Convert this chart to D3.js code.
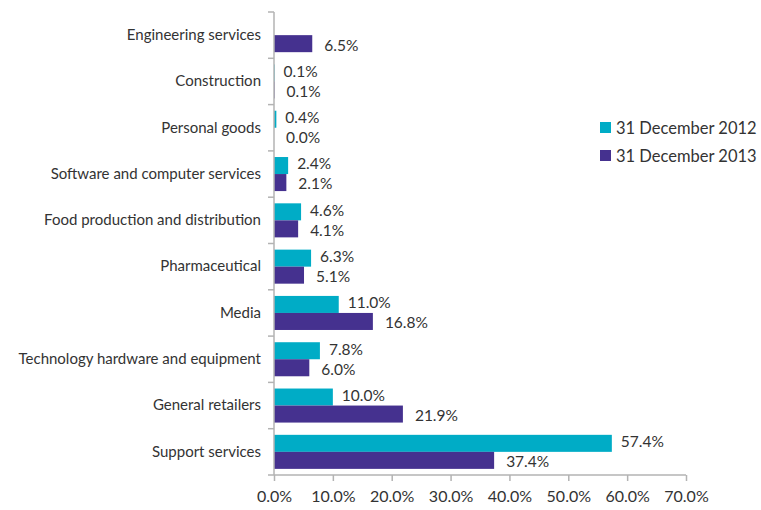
<!DOCTYPE html>
<html>
<head>
<meta charset="utf-8">
<script src="https://cdn.jsdelivr.net/npm/d3@7"></script>
<style>
  body { margin: 0; background: #fff; }
  text { font-family: Lato, "Open Sans", sans-serif; fill: #333; }
</style>
</head>
<body>
<script>
const width = 761;
const height = 510;

// data, top to bottom as drawn
const sectors = [
  'Engineering services',
  'Construction',
  'Personal goods',
  'Software and computer services',
  'Food production and distribution',
  'Pharmaceutical',
  'Media',
  'Technology hardware and equipment',
  'General retailers',
  'Support services'
];
const dec2012 = [null, 0.1, 0.4, 2.4, 4.6, 6.3, 11.0, 7.8, 10.0, 57.4];
const dec2013 = [6.5, 0.1, 0.0, 2.1, 4.1, 5.1, 16.8, 6.0, 21.9, 37.4];
const seriesNames = ['31 December 2012', '31 December 2013'];
const xTicks = [0, 10, 20, 30, 40, 50, 60, 70];

const colors = ['#00acc6', '#45318f'];
const labelOffset = [9, 12];
const labelNudge = [-1.5, 1.5]; // keep the two labels of a pair from touching

const margin = { top: 12, right: 75, bottom: 35, left: 274 };

const svg = d3.select('body').append('svg')
  .attr('width', width)
  .attr('height', height);

const x = d3.scaleLinear()
  .domain([0, 70])
  .range([margin.left, width - margin.right]);

const y = d3.scaleBand()
  .domain(sectors)
  .range([margin.top, height - margin.bottom])
  .paddingInner(0)
  .paddingOuter(0);

const sub = d3.scaleBand()
  .domain([0, 1])
  .range([0, y.bandwidth()])
  .paddingInner(0)
  .paddingOuter(0.36);

const rows = sectors.map((s, i) => ({ sector: s, values: [dec2012[i], dec2013[i]] }));

// bars
const group = svg.append('g')
  .selectAll('g')
  .data(rows)
  .enter().append('g')
  .attr('transform', d => `translate(0,${y(d.sector)})`);

group.selectAll('rect')
  .data(d => d.values.map((v, k) => ({ v, k })).filter(e => e.v !== null))
  .enter().append('rect')
    .attr('x', x(0))
    .attr('y', d => sub(d.k))
    .attr('width', d => Math.max(x(d.v) - x(0), 0))
    .attr('height', sub.bandwidth())
    .style('fill', d => colors[d.k]);

group.selectAll('text')
  .data(d => d.values.map((v, k) => ({ v, k })).filter(e => e.v !== null))
  .enter().append('text')
    .attr('x', d => x(d.v) + labelOffset[d.k])
    .attr('y', d => sub(d.k) + sub.bandwidth() / 2 + labelNudge[d.k])
    .attr('dy', '0.35em')
    .style('font-size', '15.5px')
    .text(d => d.v.toFixed(1) + '%');

// y axis
const yAxis = d3.axisLeft(y).tickSize(0).tickPadding(13);
const yg = svg.append('g')
  .attr('transform', `translate(${x(0)},0)`)
  .call(yAxis);
yg.select('.domain').remove();
yg.selectAll('text').style('font-size', '15px');

const axisColor = '#b3b3b3';
svg.append('line')
  .attr('x1', x(0)).attr('x2', x(0))
  .attr('y1', margin.top).attr('y2', height - margin.bottom)
  .style('stroke', axisColor).style('stroke-width', 1.5);

svg.append('g')
  .selectAll('line')
  .data(sectors.concat(['end']))
  .enter().append('line')
    .attr('x1', x(0) - 6).attr('x2', x(0))
    .attr('y1', (d, i) => margin.top + i * y.step())
    .attr('y2', (d, i) => margin.top + i * y.step())
    .style('stroke', axisColor).style('stroke-width', 1.5);

// x axis
const xAxis = d3.axisBottom(x)
  .tickValues(xTicks)
  .tickSize(6)
  .tickPadding(10)
  .tickFormat(d => d.toFixed(1) + '%');
const xg = svg.append('g')
  .attr('transform', `translate(0,${height - margin.bottom})`)
  .call(xAxis);
xg.select('.domain')
  .attr('d', `M${x(0)},0H${x(70)}`)
  .style('stroke', axisColor).style('stroke-width', 1.5);
xg.selectAll('line').style('stroke', axisColor).style('stroke-width', 1.5);
xg.selectAll('text').style('font-size', '16px').style('fill', '#333');

// legend
const legend = svg.append('g')
  .attr('transform', 'translate(600,122)')
  .selectAll('g')
  .data(seriesNames)
  .enter().append('g')
  .attr('transform', (d, i) => `translate(0,${i * 28})`);

legend.append('rect')
  .attr('width', 11).attr('height', 11)
  .style('fill', (d, i) => colors[i]);

legend.append('text')
  .attr('x', 16).attr('y', 6)
  .attr('dy', '0.35em')
  .style('font-size', '16.5px')
  .text(d => d);
</script>
</body>
</html>
